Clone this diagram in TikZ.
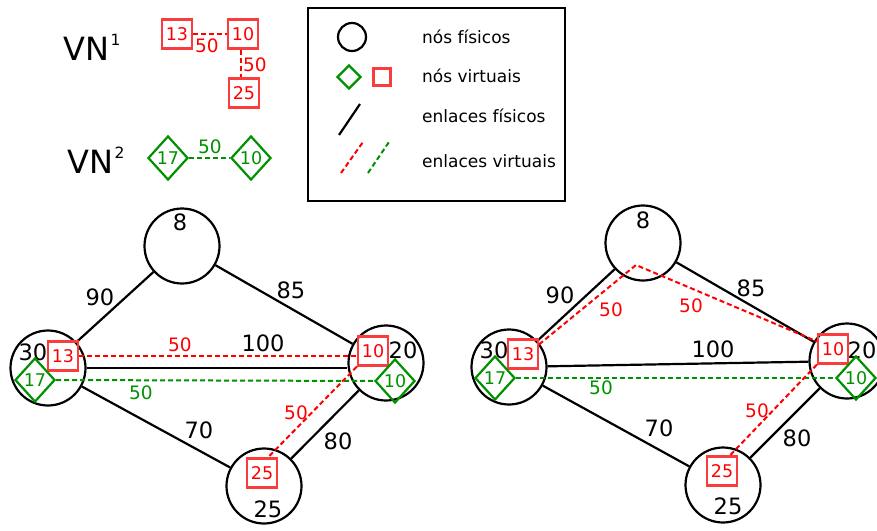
\documentclass[tikz,border=0pt]{standalone}
\usepackage{fontspec}
\setmainfont{DejaVu Sans}
\usetikzlibrary{shapes.geometric,calc}
\definecolor{vred}{RGB}{250,60,60}
\definecolor{lred}{RGB}{255,0,0}
\definecolor{vgreen}{RGB}{0,145,0}
\begin{document}
\begin{tikzpicture}[x=1pt,y=-1pt,
 phys/.style={circle,draw,line width=2.2pt,minimum size=75pt,inner sep=0pt},
 sq/.style={draw=vred,line width=2.2pt,minimum width=30pt,minimum height=29pt,inner sep=0pt,text=lred,font=\fontsize{17.5}{20}\selectfont},
 dm/.style={diamond,draw=vgreen,line width=2.2pt,minimum width=40pt,minimum height=44pt,inner sep=0pt,text=vgreen,font=\fontsize{17.5}{20}\selectfont},
 plink/.style={line width=2.2pt},
 rlink/.style={draw=lred,line width=2pt,dash pattern=on 5pt off 3pt},
 glink/.style={draw=vgreen,line width=2pt,dash pattern=on 5pt off 3pt},
 plab/.style={font=\fontsize{22.5}{26}\selectfont,inner sep=0pt},
 rlab/.style={text=lred,font=\fontsize{18.5}{21}\selectfont,inner sep=0pt},
 glab/.style={text=vgreen,font=\fontsize{18.5}{21}\selectfont,inner sep=0pt},
 legtxt/.style={anchor=base west,font=\fontsize{17}{20}\selectfont,inner sep=0pt},
 vnlab/.style={anchor=base west,inner sep=0pt,font=\fontsize{32}{36}\selectfont},
]
\useasboundingbox (0,0) rectangle (877,530);
\clip (0,0) rectangle (877,530);

% ---------- VN1 ----------
\node[vnlab] (vn1) at (63,60) {VN\kern1.5pt\raisebox{14.5pt}{\fontsize{15.5}{18}\selectfont 1}};
\node[sq] (v1a) at (177,34) {13};
\node[sq] (v1b) at (243,34) {10};
\node[sq] (v1c) at (244,93) {25};
\draw[rlink] (v1a.east) -- (v1a.east -| v1b.west);
\draw[rlink] (v1b.south -| 241,0) -- (v1c.north -| 241,0);
\node[rlab] (v1l1) at (207,46) {50};
\node[rlab] (v1l2) at (255,65) {50};

% ---------- VN2 ----------
\node[vnlab] (vn2) at (67,173.5) {VN\kern1.5pt\raisebox{15pt}{\fontsize{15.5}{18}\selectfont 2}};
\node[dm] (v2a) at (168,158) {17};
\node[dm] (v2b) at (251,158) {10};
\draw[glink] (v2a.east) -- (v2b.west);
\node[glab] (v2l) at (210,147) {50};

% ---------- legend ----------
\node[draw,line width=2.4pt,minimum width=257pt,minimum height=193pt,anchor=north west,inner sep=0pt] (legend) at (307,7) {};
\node[circle,draw,line width=2.2pt,minimum size=28pt,inner sep=0pt] (lc) at (352,37) {};
\node[diamond,draw=vgreen,line width=2.2pt,minimum width=24pt,minimum height=24pt,inner sep=0pt] (ld) at (349,77) {};
\node[draw=vred,line width=2.2pt,minimum size=17pt,inner sep=0pt] (lsq) at (382,77) {};
\coordinate (lp1) at (339,135); \coordinate (lp2) at (360,104);
\draw[plink] (lp1) -- (lp2);
\coordinate (lr1) at (341,173); \coordinate (lr2) at (363,142);
\draw[rlink] (lr1) -- (lr2);
\coordinate (lg1) at (368,173); \coordinate (lg2) at (389,142);
\draw[glink] (lg1) -- (lg2);
\node[legtxt] (t1) at (422,43) {nós físicos};
\node[legtxt] (t2) at (422,82) {nós virtuais};
\node[legtxt] (t3) at (422,122) {enlaces físicos};
\node[legtxt] (t4) at (422,167) {enlaces virtuais};

% ---------- left graph ----------
\node[phys] (c8) at (182,246) {};
\node[phys] (c30) at (48,368) {};
\node[phys] (c20) at (386,363) {};
\node[phys] (c25) at (264,486) {};
\draw[plink] (c30) -- (c8);
\draw[plink] (c8) -- (c20);
\draw[plink] (c30) -- (c30 -| c20.west);
\draw[plink] (c30) -- (c25);
\draw[plink] (c20) -- (c25);
\node[plab] (l8) at (180,222) {8};
\node[plab] (l30) at (33,352) {30};
\node[plab] (l20) at (403,350) {20};
\node[plab] (l25) at (268,509) {25};
\node[plab] (e90) at (100,297) {90};
\node[plab] (e85) at (291,290) {85};
\node[plab] (e100) at (263,343) {100};
\node[plab] (e70) at (199,430) {70};
\node[plab] (e80) at (338,441) {80};

\node[sq] (s13) at (63,356) {13};
\node[dm] (d17) at (35,380) {17};
\node[sq] (s10) at (373,351) {10};
\node[dm] (d10) at (395,381) {10};
\node[sq] (s25) at (262,473) {25};
\draw[rlink] (s13.east) -- (s13.east -| s10.west);
\draw[glink] (d17.east) -- (d10.west);
\draw[rlink] (s10.south west) -- ([xshift=6pt]s25.north);
\node[rlab] (r1) at (180,345) {50};
\node[glab] (g1) at (141,393) {50};
\node[rlab] (r2) at (296,413) {50};

% ---------- right graph ----------
\node[phys] (c8r) at (643,243) {};
\node[phys] (c30r) at (509,367) {};
\node[phys] (c20r) at (847,361) {};
\node[phys] (c25r) at (723,485) {};
\draw[plink] (c30r) -- (c8r);
\draw[plink] (c8r) -- (c20r);
\draw[plink] (c30r) -- (c20r);
\draw[plink] (c30r) -- (c25r);
\draw[plink] (c20r) -- (c25r);
\node[plab] (l8r) at (643,220) {8};
\node[plab] (l30r) at (494,350) {30};
\node[plab] (l20r) at (862,350) {20};
\node[plab] (l25r) at (728,506) {25};
\node[plab] (e90r) at (560,295) {90};
\node[plab] (e85r) at (751,288) {85};
\node[plab] (e100r) at (713,349) {100};
\node[plab] (e70r) at (659,428) {70};
\node[plab] (e80r) at (797,438) {80};

\node[sq] (s13r) at (523,354) {13};
\node[dm] (d17r) at (495,378) {17};
\node[sq] (s10r) at (833,349) {10};
\node[dm] (d10r) at (856,378) {10};
\node[sq] (s25r) at (722,471) {25};
\coordinate (apex) at (636,265);
\draw[rlink] ([yshift=-6pt]s13r.north east) -- (apex) -- ([yshift=-8pt]s10r.north west);
\draw[glink] (d17r.east) -- (d10r.west);
\draw[rlink] (s10r.south west) -- ([xshift=8pt]s25r.north);
\node[rlab] (r1r) at (611,310) {50};
\node[rlab] (r2r) at (691,306) {50};
\node[glab] (g1r) at (601,388) {50};
\node[rlab] (r3r) at (757,411) {50};
\end{tikzpicture}
\end{document}
